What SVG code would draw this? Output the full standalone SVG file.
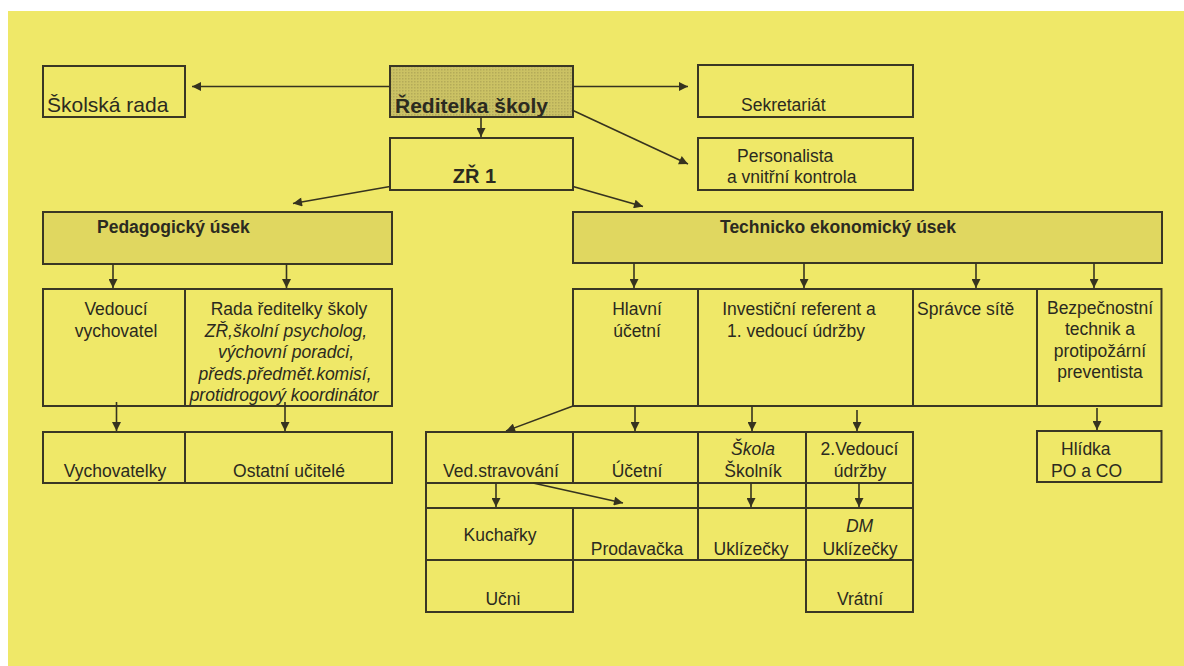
<svg xmlns="http://www.w3.org/2000/svg" width="1184" height="666" viewBox="0 0 1184 666">
<defs>
<marker id="ah" viewBox="0 0 10 10" refX="10" refY="5" markerWidth="10" markerHeight="9" markerUnits="userSpaceOnUse" orient="auto">
<path d="M0,0 L10,5 L0,10 z" fill="#36331f"/>
</marker>
<pattern id="dots" width="3" height="3" patternUnits="userSpaceOnUse">
<rect width="3" height="3" fill="#cbc264"/>
<rect width="1.5" height="1.5" fill="#b4ab58"/>
</pattern>
</defs>
<style>
.box{fill:none;stroke:#3a3724;stroke-width:2}
.hdr{fill:#e0d760;stroke:#3a3724;stroke-width:2}
.dir{fill:url(#dots);stroke:#3a3724;stroke-width:2}
.t{font-family:"Liberation Sans",Arial,sans-serif;font-size:17.5px;fill:#2b2a20}
.c{text-anchor:middle}
.b{font-weight:bold}
.i{font-style:italic}
.con{fill:none;stroke:#36331f;stroke-width:1.6;marker-end:url(#ah)}
</style>
<rect x="0" y="0" width="1184" height="666" fill="#ffffff"/>
<rect x="8" y="11" width="1176" height="655" fill="#efe868"/>

<g id="skolska-rada"><rect class="box" x="43" y="66" width="142" height="51"/><text class="t" x="47" y="112" style="font-size:21px">Školská rada</text></g>
<g id="reditelka"><rect class="dir" x="390" y="66" width="183" height="51"/><text class="t b" x="395" y="112.5" style="font-size:21px">Ředitelka školy</text></g>
<g id="sekretariat"><rect class="box" x="698" y="65" width="215" height="52"/><text class="t" x="741" y="110.5">Sekretariát</text></g>
<g id="zr1"><rect class="box" x="390" y="138" width="183" height="52"/><text class="t b c" x="474.5" y="182.5" style="font-size:20px">ZŘ 1</text></g>
<g id="personalista"><rect class="box" x="698" y="138" width="215" height="52"/><text class="t" x="737" y="161.5">Personalista</text><text class="t" x="727" y="183">a vnitřní kontrola</text></g>

<g id="pedagogicky"><rect class="hdr" x="43" y="212" width="349" height="52"/><text class="t b" x="97" y="233">Pedagogický úsek</text></g>
<g id="technicko"><rect class="hdr" x="573" y="212" width="589" height="51"/><text class="t b" x="720" y="233">Technicko ekonomický úsek</text></g>

<g id="vedouci-vychovatel"><rect class="box" x="43" y="289" width="142" height="117"/><text class="t c" x="116" y="315">Vedoucí</text><text class="t c" x="116" y="336.7">vychovatel</text></g>
<g id="rada"><rect class="box" x="185" y="289" width="207" height="117"/><text class="t c" x="289" y="315">Rada ředitelky školy</text><text class="t c i" x="286" y="336.7">ZŘ,školní psycholog,</text><text class="t c i" x="286" y="358.3">výchovní poradci,</text><text class="t c i" x="285" y="380">předs.předmět.komisí,</text><text class="t c i" x="284" y="400.5">protidrogový koordinátor</text></g>
<g id="vychovatelky"><rect class="box" x="43" y="432" width="142" height="51"/><text class="t c" x="115" y="476.7">Vychovatelky</text></g>
<g id="ostatni-ucitele"><rect class="box" x="185" y="432" width="207" height="51"/><text class="t c" x="289" y="476.7">Ostatní učitelé</text></g>

<g id="hlavni-ucetni"><rect class="box" x="573" y="289" width="125" height="117"/><text class="t c" x="637" y="315">Hlavní</text><text class="t c" x="637" y="336.7">účetní</text></g>
<g id="investicni"><rect class="box" x="698" y="289" width="215" height="117"/><text class="t c" x="799" y="315">Investiční referent a</text><text class="t c" x="796" y="336.7">1. vedoucí údržby</text></g>
<g id="spravce"><rect class="box" x="913" y="289" width="124" height="117"/><text class="t" x="917" y="315">Správce sítě</text></g>
<g id="bezpecnostni"><rect class="box" x="1037" y="289" width="124.5" height="117"/><text class="t c" x="1100" y="313.5">Bezpečnostní</text><text class="t c" x="1100" y="335">technik a</text><text class="t c" x="1100" y="356.5">protipožární</text><text class="t c" x="1100" y="378">preventista</text></g>
<g id="hlidka"><rect class="box" x="1037" y="431" width="124.5" height="51"/><text class="t" x="1061" y="455">Hlídka</text><text class="t" x="1051" y="476.7">PO a CO</text></g>

<g id="ved-stravovani"><rect class="box" x="426" y="432" width="147" height="51"/><text class="t c" x="501" y="476.7">Ved.stravování</text></g>
<g id="ucetni"><rect class="box" x="573" y="432" width="125" height="51"/><text class="t c" x="637" y="476.7">Účetní</text></g>
<g id="skolnik"><rect class="box" x="698" y="432" width="108" height="51"/><text class="t c i" x="753" y="455">Škola</text><text class="t c" x="753" y="476.7">Školník</text></g>
<g id="vedouci2"><rect class="box" x="806" y="432" width="107" height="51"/><text class="t c" x="859.5" y="455">2.Vedoucí</text><text class="t c" x="860" y="476.7">údržby</text></g>
<g id="mezera"><rect class="box" x="426" y="483" width="272" height="25"/><rect class="box" x="698" y="483" width="108" height="25"/><rect class="box" x="806" y="483" width="107" height="25"/></g>
<g id="kucharky"><rect class="box" x="426" y="508" width="147" height="52"/><text class="t c" x="500" y="541">Kuchařky</text></g>
<g id="prodavacka"><rect class="box" x="573" y="508" width="125" height="52"/><text class="t c" x="637" y="555">Prodavačka</text></g>
<g id="uklizecky"><rect class="box" x="698" y="508" width="108" height="52"/><text class="t c" x="751" y="555">Uklízečky</text></g>
<g id="dm-uklizecky"><rect class="box" x="806" y="508" width="107" height="52"/><text class="t c i" x="859.5" y="531.5">DM</text><text class="t c" x="860" y="555">Uklízečky</text></g>
<g id="ucni"><rect class="box" x="426" y="560" width="147" height="52"/><text class="t c" x="503" y="605">Učni</text></g>
<g id="vratni"><rect class="box" x="806" y="560" width="107" height="52"/><text class="t c" x="860" y="605">Vrátní</text></g>

<g id="connectors">
<path class="con" d="M390,86.5 L192,86.5"/>
<path class="con" d="M573,86.5 L688,86.5"/>
<path class="con" d="M481,117 L481,137"/>
<path class="con" d="M572,110 L688,164"/>
<path class="con" d="M390,186.5 L293,203.5"/>
<path class="con" d="M573,186.5 L643,206.5"/>
<path class="con" d="M113,264 L113,288"/>
<path class="con" d="M286.5,264 L286.5,288"/>
<path class="con" d="M116.5,402 L116.5,431"/>
<path class="con" d="M285,402 L285,431"/>
<path class="con" d="M634,263 L634,288"/>
<path class="con" d="M804,263 L804,288"/>
<path class="con" d="M976,263 L976,288"/>
<path class="con" d="M1094,263 L1094,288"/>
<path class="con" d="M573,406 L506,431"/>
<path class="con" d="M635,406 L635,431"/>
<path class="con" d="M752,406 L752,431"/>
<path class="con" d="M857,410 L857,431"/>
<path class="con" d="M1097,408 L1097,430"/>
<path class="con" d="M496,483 L496,507"/>
<path class="con" d="M533,483 L623,503"/>
<path class="con" d="M751,483 L751,507"/>
<path class="con" d="M859,483 L859,507"/>
</g>
</svg>
